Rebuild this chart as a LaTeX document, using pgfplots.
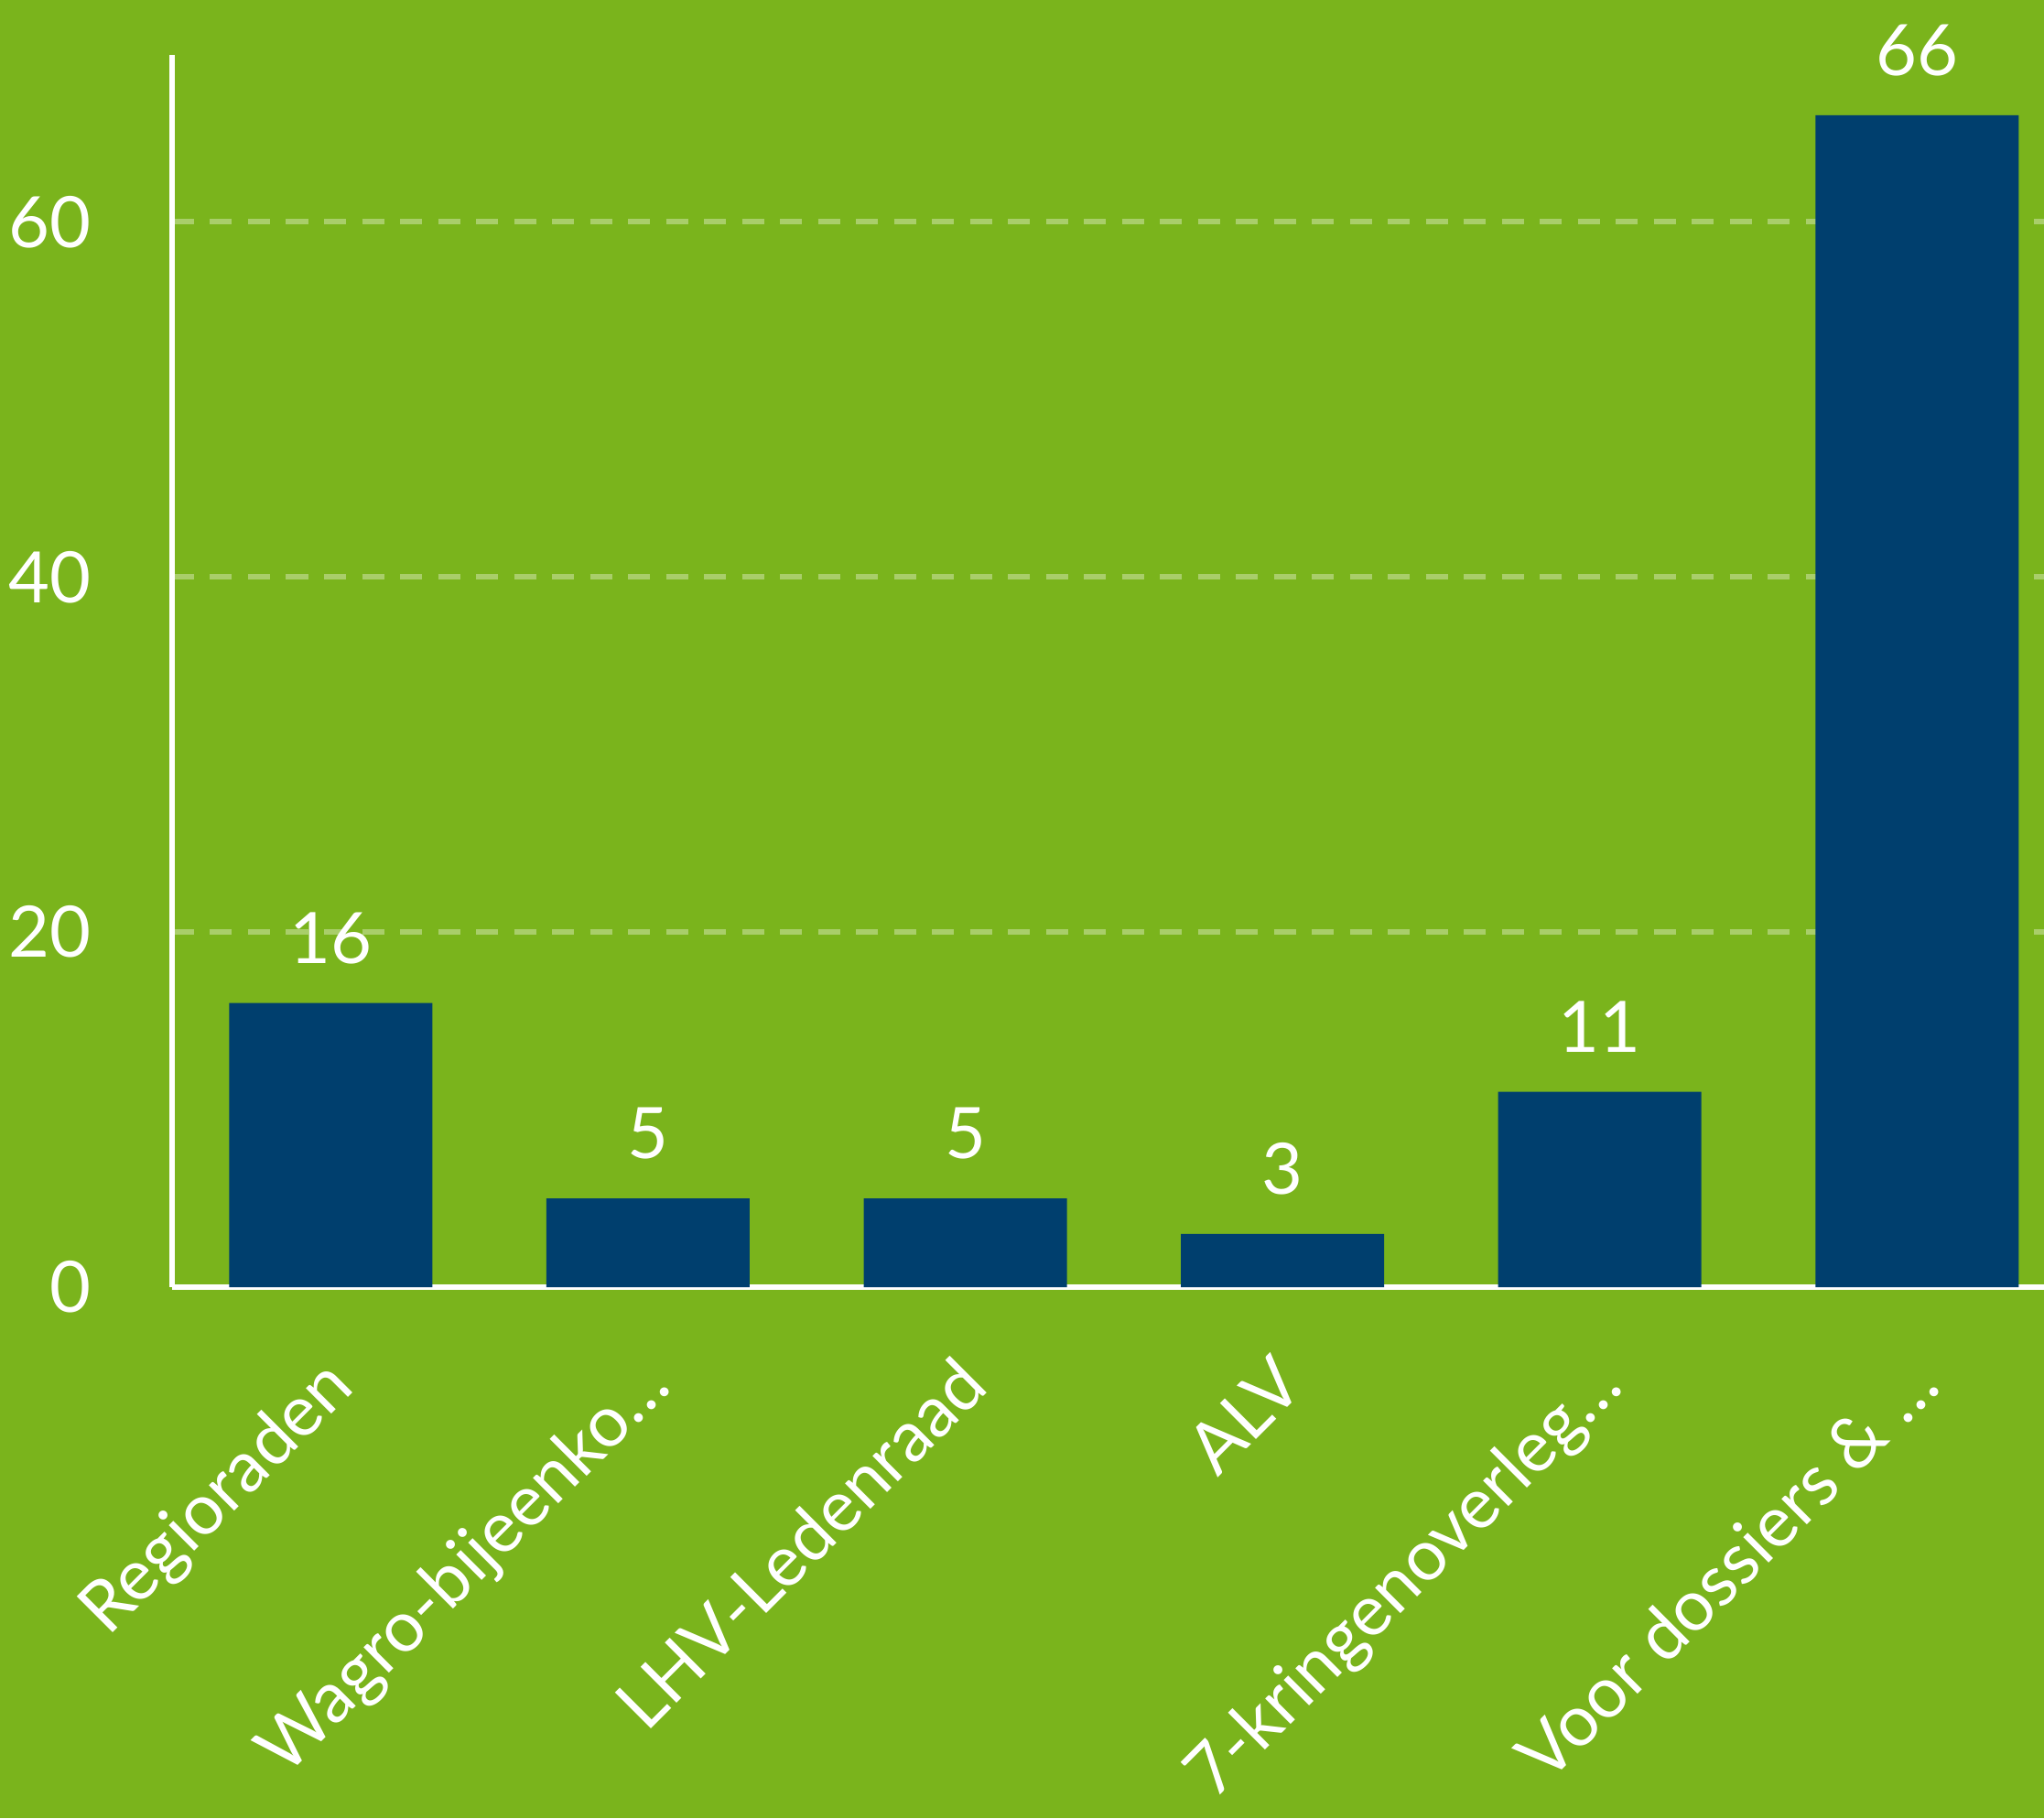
\documentclass[border=0pt]{standalone}
\usepackage{fontspec}
\setmainfont{Lato}
\usepackage{pgfplots}
\pgfplotsset{compat=1.18}
\definecolor{bggreen}{HTML}{7AB41C}
\definecolor{barblue}{HTML}{003F6E}
\definecolor{gridgreen}{HTML}{A9CE6A}
\newcommand\lblfont{\fontsize{15.5}{18}\selectfont}
\begin{document}
\begin{tikzpicture}
\fill[bggreen] (-37.6pt,-116pt) rectangle (409pt,281.2pt);
\begin{axis}[
    at={(0,0)}, anchor=south west,
    scale only axis, width=409pt, height=269.2pt,
    xmin=-0.5, xmax=5.4, ymin=0, ymax=69.4,
    clip=false,
    axis lines*=left,
    axis line style={-, white, line width=1.2pt},
    major tick length=0pt,
    ytick={0,20,40,60},
    ymajorgrids=true,
    grid style={gridgreen, line width=1.2pt, dash pattern=on 4.8pt off 3.5pt},
    /pgf/number format/assume math mode=true,
    yticklabel style={font=\lblfont, text=white, anchor=east, inner sep=0pt, xshift=-17.6pt},
    xtick=data,
    xticklabels={Regioraden, Wagro-bijeenko…, LHV-Ledenraad, ALV, 7-kringenoverleg…, Voor dossiers \& …},
    xticklabel style={font=\lblfont, text=white, inner sep=0pt, xshift=-2.5pt, yshift=-14pt, rotate=45, anchor=north east},
]
\addplot[ybar, bar width=44.4pt, fill=barblue, draw=none,
    nodes near coords,
    every node near coord/.append style={font=\lblfont, text=white, anchor=south, inner sep=0pt, yshift=8.4pt}]
    coordinates {(0,16) (1,5) (2,5) (3,3) (4,11) (5,66)};
\end{axis}
\pgfresetboundingbox
\path[use as bounding box] (-37.6pt,-116pt) rectangle (409pt,281.2pt);
\end{tikzpicture}
\end{document}
